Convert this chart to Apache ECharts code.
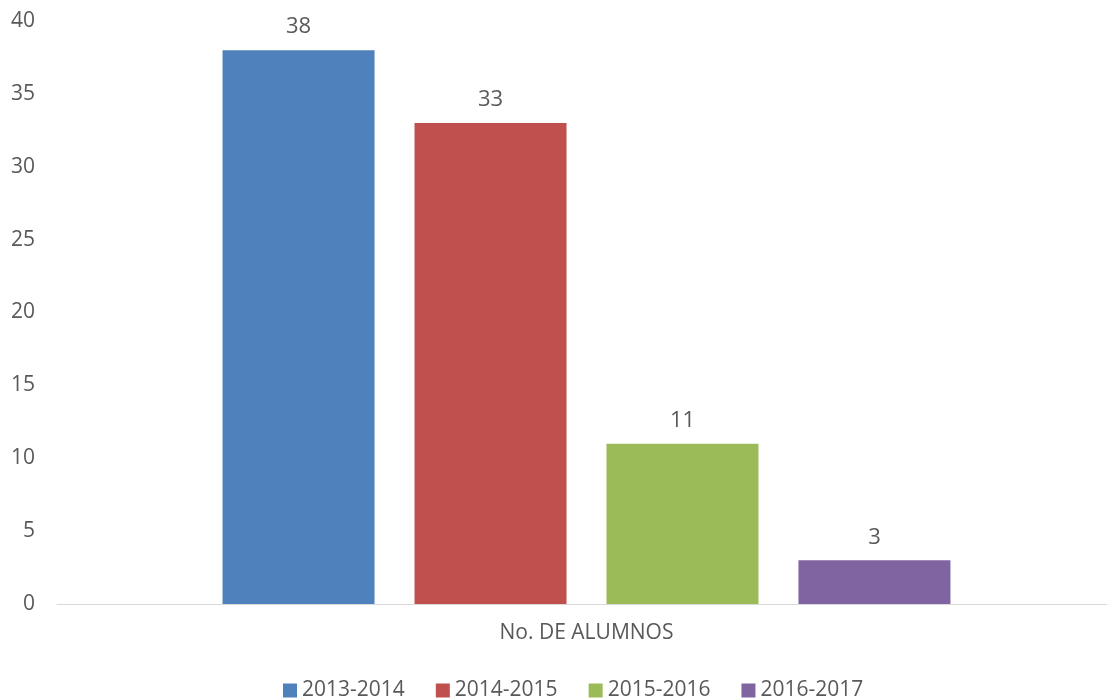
<!DOCTYPE html>
<html><head><meta charset="utf-8">
<script src="https://cdn.jsdelivr.net/npm/echarts@6/dist/echarts.min.js"></script>
<style>html,body{margin:0;padding:0;background:#fff;overflow:hidden;width:1107px;height:700px}#c{width:1116px;height:700px}</style>
</head><body><div id="c"></div>
<script>
const categories = ["No. DE ALUMNOS"];
const seriesNames = ["2013-2014", "2014-2015", "2015-2016", "2016-2017"];
const seriesValues = [[38], [33], [11], [3]];
const colors = ["#4F81BD", "#C0504D", "#9BBB59", "#8064A2"];
const font = "'Open Sans', 'Noto Sans', sans-serif";
const chart = echarts.init(document.getElementById('c'));
chart.setOption({
  animation: false,
  grid: {left: 57, right: 0, top: 21, bottom: 96, containLabel: false},
  legend: {
    bottom: -6, left: 278, itemWidth: 14, itemHeight: 14, itemGap: 31,
    icon: 'rect',
    textStyle: {fontFamily: font, fontSize: 21, color: '#595959'},
    data: seriesNames
  },
  xAxis: {
    type: 'category', data: categories,
    axisLine: {lineStyle: {color: '#D9D9D9', width: 1}},
    axisTick: {show: false},
    axisLabel: {fontFamily: font, fontSize: 21, color: '#595959', margin: 19}
  },
  yAxis: {
    type: 'value', min: 0, max: 40, interval: 5,
    splitLine: {show: false},
    axisLine: {show: false}, axisTick: {show: false},
    axisLabel: {fontFamily: font, fontSize: 21, color: '#595959', margin: 22}
  },
  series: seriesNames.map((n, i) => ({
    name: n, type: 'bar', data: seriesValues[i],
    barWidth: 152, barGap: '26.3%',
    itemStyle: {color: colors[i]},
    label: {show: true, position: 'top', distance: 12, fontFamily: font, fontSize: 22, color: '#595959'}
  }))
});
</script></body></html>
